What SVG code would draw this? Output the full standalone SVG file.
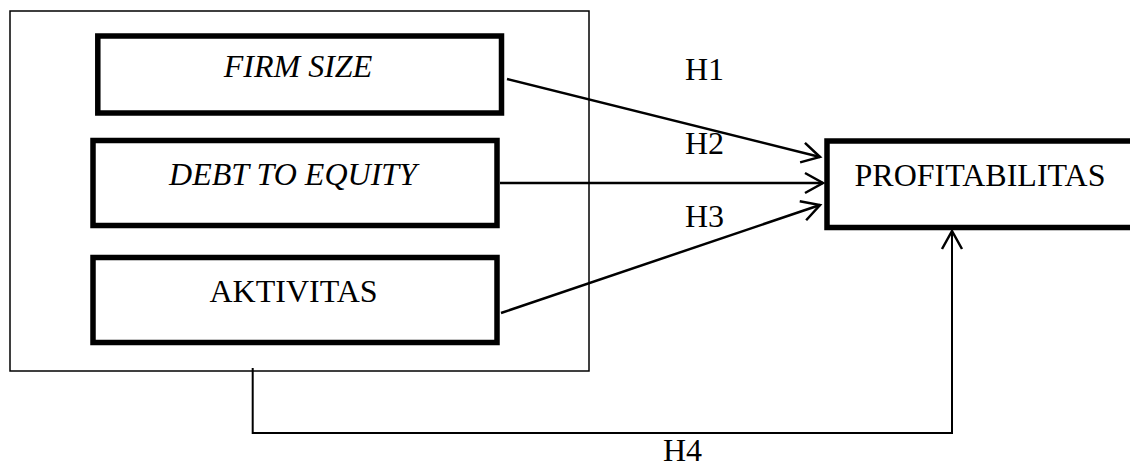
<svg xmlns="http://www.w3.org/2000/svg" width="1130" height="468" viewBox="0 0 1130 468">
<style>
.node{fill:#fff;stroke:#000;stroke-width:5.5}
.frame{fill:none;stroke:#000;stroke-width:1.5}
.conn{fill:none;stroke:#000;stroke-width:2.5}
.t{font-family:"Liberation Serif","Times New Roman",serif;font-size:32px;fill:#000}
.i{font-style:italic}
</style>
<defs>
<marker id="arr" markerUnits="userSpaceOnUse" markerWidth="30" markerHeight="30" refX="20" refY="12" orient="auto" viewBox="0 0 30 24">
<path d="M2,2 L20,12 L2,22" fill="none" stroke="#000" stroke-width="2.5"/>
</marker>
</defs>
<rect id="frame" class="frame" x="10" y="11" width="579" height="360"/>
<g id="firm-size">
<rect class="node" x="97.8" y="36" width="403.7" height="77"/>
<text class="t i" x="298" y="77" text-anchor="middle">FIRM SIZE</text>
</g>
<g id="debt-to-equity">
<rect class="node" x="93" y="140.5" width="404" height="85"/>
<text class="t i" x="293" y="185" text-anchor="middle">DEBT TO EQUITY</text>
</g>
<g id="aktivitas">
<rect class="node" x="93" y="257.5" width="404" height="85"/>
<text class="t" x="293.5" y="302" text-anchor="middle">AKTIVITAS</text>
</g>
<g id="profitabilitas">
<rect class="node" x="827" y="141" width="310" height="86.5"/>
<text class="t" x="980" y="186" text-anchor="middle">PROFITABILITAS</text>
</g>
<g id="connectors">
<line class="conn" x1="507" y1="79" x2="820" y2="157" marker-end="url(#arr)"/>
<line class="conn" x1="500" y1="183" x2="823" y2="183" marker-end="url(#arr)"/>
<line class="conn" x1="501" y1="313" x2="820" y2="205" marker-end="url(#arr)"/>
<polyline class="conn" style="stroke-width:2" points="252.7,368 252.7,433 952,433 952,231" marker-end="url(#arr)"/>
</g>
<g id="labels">
<text class="t" x="685" y="80">H1</text>
<text class="t" x="685" y="154">H2</text>
<text class="t" x="685" y="227">H3</text>
<text class="t" x="663" y="461">H4</text>
</g>
</svg>
